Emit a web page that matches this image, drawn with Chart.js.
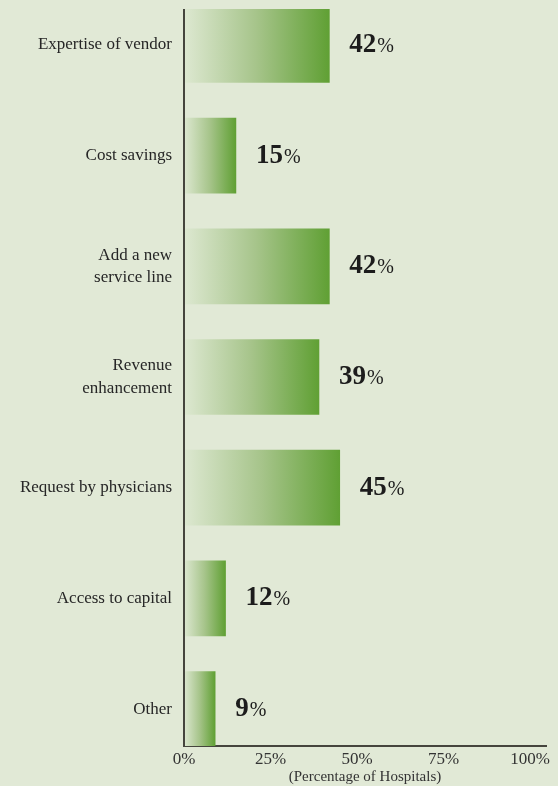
<!DOCTYPE html>
<html>
<head>
<meta charset="utf-8">
<script src="https://cdn.jsdelivr.net/npm/chart.js@4"></script>
<style>
  html, body { margin: 0; padding: 0; background: #e1e9d6; }
  canvas { display: block; }
</style>
</head>
<body>
<canvas id="hospitais" width="558" height="786"></canvas>
<script>
// dados
const categories = [
  "Expertise of vendor",
  "Cost savings",
  ["Add a new", "service line"],
  ["Revenue", "enhancement"],
  "Request by physicians",
  "Access to capital",
  "Other"
];
const percentages = [42, 15, 42, 39, 45, 12, 9];
const xTicks = [0, 25, 50, 75, 100];

const serif = "'Liberation Serif', 'DejaVu Serif', serif";
const axisColor = "#45453d";

// gradiente de cada barra, do eixo até o fim da barra
function barGradient(context) {
  const chart = context.chart;
  const sx = chart.scales.x;
  if (!sx || !chart.chartArea) return "#6aa23e";
  const v = percentages[context.dataIndex];
  const x0 = sx.getPixelForValue(0);
  const x1 = sx.getPixelForValue(v);
  const g = chart.ctx.createLinearGradient(x0, 0, x1, 0);
  g.addColorStop(0, "#dde8d1");
  g.addColorStop(0.5, "#a6c48a");
  g.addColorStop(1, "#60a034");
  return g;
}

// rótulos de valor ao lado das barras + linha do eixo por cima das barras
const valueLabels = {
  id: "valueLabels",
  afterDatasetsDraw(chart) {
    const ctx = chart.ctx;
    const area = chart.chartArea;
    const meta = chart.getDatasetMeta(0);
    ctx.save();
    ctx.strokeStyle = axisColor;
    ctx.lineWidth = 2;
    ctx.beginPath();
    ctx.moveTo(area.left, area.top);
    ctx.lineTo(area.left, area.bottom + 1);
    ctx.stroke();

    ctx.fillStyle = "#1c1c1c";
    ctx.textBaseline = "alphabetic";
    ctx.textAlign = "left";
    meta.data.forEach((bar, i) => {
      const num = String(percentages[i]);
      const x = bar.x + 20;
      const y = bar.y + 7;
      ctx.font = "bold 27px " + serif;
      ctx.fillText(num, x, y);
      const w = ctx.measureText(num).width;
      ctx.font = "20px " + serif;
      ctx.fillText("%", x + w + 1, y);
    });
    ctx.restore();
  }
};

new Chart("hospitais", {
  type: "bar",
  data: {
    datasets: [{
      data: percentages.map((v, i) => ({ x: v, y: i })),
      backgroundColor: barGradient,
      borderWidth: 0,
      barThickness: 75
    }]
  },
  options: {
    indexAxis: "y",
    responsive: false,
    animation: false,
    layout: { padding: { top: 9, right: 12, bottom: 0, left: 0 } },
    plugins: {
      legend: { display: false },
      tooltip: { enabled: false }
    },
    scales: {
      x: {
        type: "linear",
        min: 0,
        max: 104.6,
        afterBuildTicks: (scale) => { scale.ticks = xTicks.map(v => ({ value: v })); },
        afterFit: (scale) => {
          scale.height = 40;
          scale.paddingLeft = 0;
          scale.paddingRight = 0;
        },
        grid: { display: false, drawTicks: false },
        border: { display: true, color: axisColor, width: 2 },
        ticks: {
          padding: 3,
          color: "#333",
          font: { family: serif, size: 17 },
          callback: (v) => v + "%"
        },
        title: {
          display: true,
          text: "(Percentage of Hospitals)",
          color: "#333",
          font: { family: serif, size: 15 },
          padding: { top: 0, bottom: 0 }
        }
      },
      y: {
        type: "linear",
        reverse: true,
        offset: false,
        min: -0.325,
        max: 6.334,
        afterBuildTicks: (scale) => { scale.ticks = categories.map((c, i) => ({ value: i })); },
        afterFit: (scale) => {
          scale.width = 184;
          scale.paddingTop = 0;
          scale.paddingBottom = 0;
        },
        grid: { display: false, drawTicks: false },
        border: { display: false },
        ticks: {
          padding: 12,
          autoSkip: false,
          color: "#262626",
          font: { family: serif, size: 17, lineHeight: 1.3 },
          callback: (v) => categories[v]
        }
      }
    }
  },
  plugins: [valueLabels]
});
</script>
</body>
</html>
